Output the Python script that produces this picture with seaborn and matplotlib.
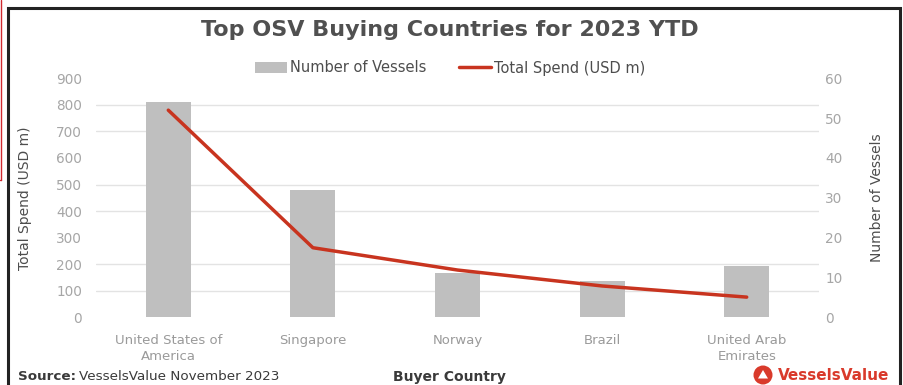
import numpy as np
import pandas as pd
import matplotlib
matplotlib.use("Agg")
import matplotlib.pyplot as plt
from matplotlib.lines import Line2D
from matplotlib.patches import Patch, Rectangle, Ellipse, Polygon
from matplotlib.ticker import FixedLocator, NullFormatter
import seaborn as sns

# Data
countries = ["United States of\nAmerica", "Singapore", "Norway", "Brazil", "United Arab\nEmirates"]
vessels = [54, 32, 11, 9, 13]
total_spend = [780, 262, 178, 118, 76]
spend_ticks = list(range(0, 901, 100))
vessel_ticks = list(range(0, 61, 10))

df = pd.DataFrame({"country": countries, "vessels": vessels, "spend": total_spend})

sns.set_theme(style="white")
plt.rcParams["font.family"] = ["DejaVu Sans"]

W, H = 904, 385
fig = plt.figure(figsize=(W / 100, H / 100), dpi=100)
fig.patch.set_facecolor("white")

def fx(px):
    return px / W

def fy(py):
    return 1 - py / H

BAR = "#bfbfbf"
RED = "#c8341f"
TICK = "#a6a6a6"
DARK = "#4d4d4d"

ax = fig.add_axes([fx(96), fy(317.3), fx(819) - fx(96), fy(78.3) - fy(317.3)])
ax2 = ax.twinx()

# Bars: number of vessels (0-60 scale shown on the right)
sns.barplot(data=df, x="country", y="vessels", ax=ax, color=BAR, width=0.31,
            saturation=1, edgecolor="none", zorder=2)
ax.set_ylim(0, 60)
ax.set_xlim(-0.5, len(countries) - 0.5)

# Line: total spend (0-900 scale shown on the left)
sns.lineplot(data=df, x="country", y="spend", ax=ax2, color=RED, linewidth=2.5,
             sort=False, zorder=3)
ax2.set_ylim(0, 900)

# Spend axis on the left, vessels axis on the right
ax2.yaxis.tick_left()
ax2.yaxis.set_label_position("left")
ax.yaxis.tick_right()
ax.yaxis.set_label_position("right")

ax2.set_yticks(spend_ticks)
ax.set_yticks(vessel_ticks)

# Gridlines follow the spend scale but sit behind the bars
ax.yaxis.set_minor_locator(FixedLocator([v / 15 for v in spend_ticks]))
ax.yaxis.set_minor_formatter(NullFormatter())
ax.grid(False)
ax.grid(True, which="minor", axis="y", color="#e3e3e3", linewidth=1.0, zorder=0)
ax.set_axisbelow(True)
ax2.grid(False)

for a in (ax, ax2):
    for s in a.spines.values():
        s.set_visible(False)
    a.tick_params(axis="both", which="both", length=0)

ax.tick_params(axis="y", which="major", labelsize=9.8, labelcolor=TICK, pad=4.5)
ax2.tick_params(axis="y", labelsize=9.8, labelcolor=TICK, pad=10)
ax.tick_params(axis="x", labelsize=9.5, labelcolor="#9a9a9a", pad=12)
ax2.tick_params(axis="x", labelbottom=False)
for lab in ax.get_xticklabels():
    lab.set_linespacing(1.3)

ax.set_xlabel("")
ax2.set_xlabel("")
ax.set_ylabel("Number of Vessels", fontsize=10, color=DARK, labelpad=20)
ax2.set_ylabel("Total Spend (USD m)", fontsize=10, color=DARK, labelpad=17)

if ax2.get_legend():
    ax2.get_legend().remove()

handles = [Patch(facecolor=BAR, edgecolor="none"),
           Line2D([0], [0], color=RED, linewidth=2.5)]
fig.legend(handles, ["Number of Vessels", "Total Spend (USD m)"],
           loc="center", bbox_to_anchor=(fx(450), fy(68)), ncol=2, frameon=False,
           fontsize=10.5, labelcolor=DARK, handlelength=2.2, handletextpad=0.2,
           columnspacing=2.2)

fig.text(fx(450), fy(30), "Top OSV Buying Countries for 2023 YTD", ha="center",
         va="center", fontsize=16, fontweight="bold", color="#505050")

fig.text(fx(449), fy(377), "Buyer Country", ha="center", va="center",
         fontsize=10, fontweight="bold", color="#3a3a3a")

src = fig.text(fx(18), fy(377), "Source:", ha="left", va="center", fontsize=9.7,
               fontweight="bold", color="#3a3a3a")
fig.canvas.draw()
bb = src.get_window_extent()
fig.text(bb.x1 / W + fx(3), fy(377), "VesselsValue November 2023", ha="left",
         va="center", fontsize=9.7, color="#3a3a3a")

# Brand mark
cx, cy, r = 763, 375, 9.5
fig.patches.append(Ellipse((fx(cx), fy(cy)), width=2 * r / W, height=2 * r / H,
                           transform=fig.transFigure, facecolor="#d93a2b",
                           edgecolor="none"))
fig.patches.append(Polygon([(fx(cx - 5), fy(cy + 3.5)), (fx(cx + 5), fy(cy + 3.5)),
                            (fx(cx), fy(cy - 5))], closed=True,
                           transform=fig.transFigure, facecolor="white",
                           edgecolor="none"))
fig.text(fx(778), fy(376), "VesselsValue", ha="left", va="center", fontsize=11,
         fontweight="bold", color="#d93a2b")

# Frame
fig.patches.append(Rectangle((fx(7.5), fy(395)), fx(900.5) - fx(7.5), fy(8) - fy(395),
                             transform=fig.transFigure, facecolor="none",
                             edgecolor="#222222", linewidth=2.2))
fig.lines.append(Line2D([fx(1.5), fx(1.5)], [1, fy(180)], transform=fig.transFigure,
                        color="#d0282e", linewidth=1.0))
fig.lines.append(Line2D([0, fx(1.5)], [fy(180), fy(180)], transform=fig.transFigure,
                        color="#d0282e", linewidth=1.0))

fig.savefig("out.png", dpi=100, facecolor="white")
